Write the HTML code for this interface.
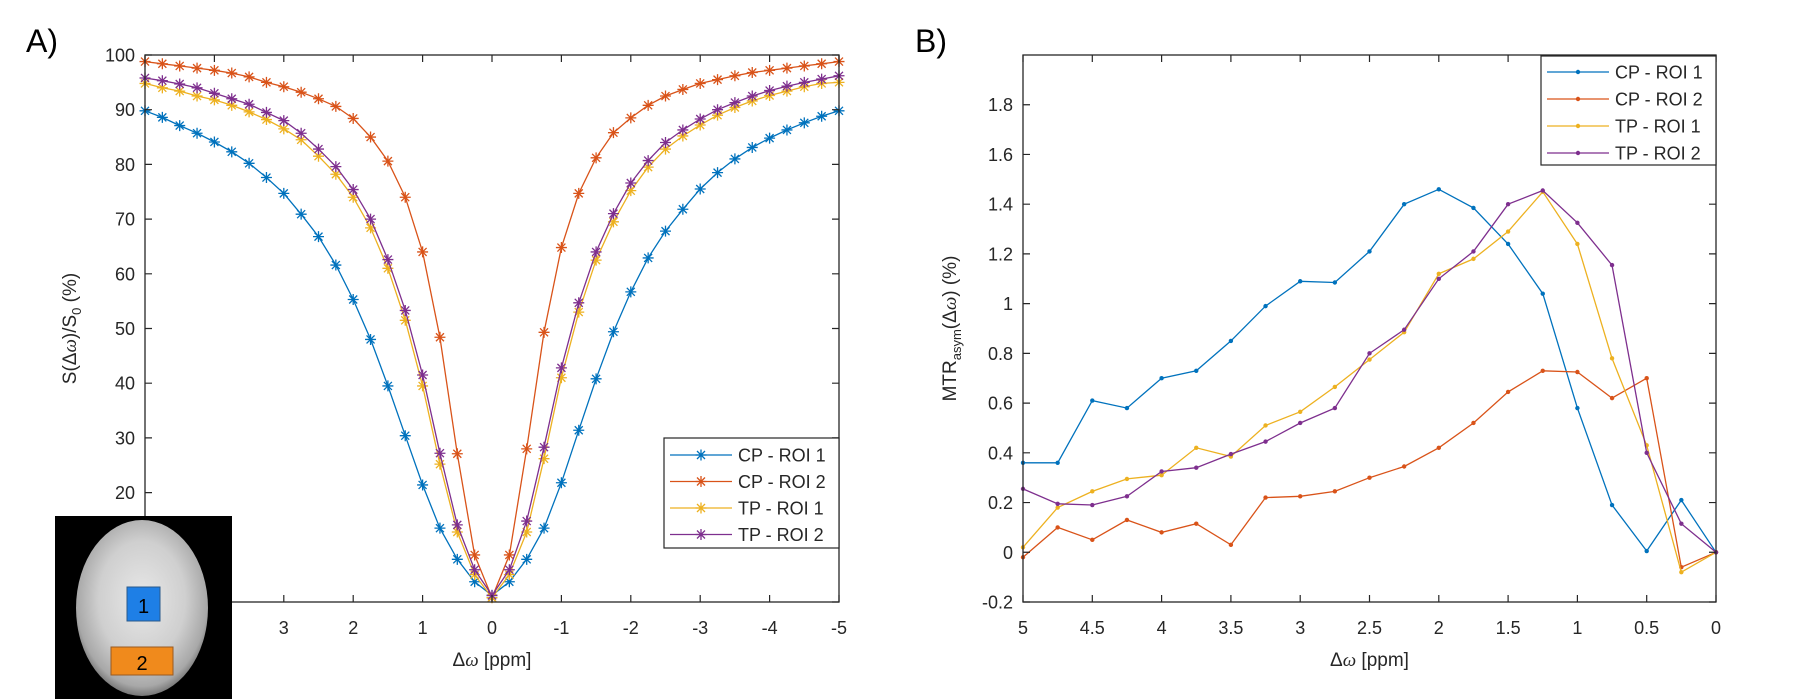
<!DOCTYPE html>
<html><head><meta charset="utf-8"><style>
html,body{margin:0;padding:0;background:#fff;}
svg{display:block;font-family:"Liberation Sans",Arial,sans-serif;}
</style></head><body>
<svg id="fig" width="1801" height="699" viewBox="0 0 1801 699" xmlns="http://www.w3.org/2000/svg">
<defs>
<radialGradient id="brainGrad" cx="50%" cy="45%" r="55%">
<stop offset="0" stop-color="#e8e8e8"/><stop offset="0.6" stop-color="#cfcfcf"/><stop offset="0.9" stop-color="#a8a8a8"/><stop offset="1" stop-color="#777"/>
</radialGradient>
</defs>
<text x="26" y="52" font-size="32">A)</text>
<text x="915" y="52" font-size="32">B)</text>
<g id="chartA"></g>
<g id="chartB"></g>
<g>
<rect x="55" y="516" width="177" height="183" fill="#000"/>
<ellipse cx="142" cy="608" rx="66" ry="88" fill="url(#brainGrad)"/>
<rect x="127" y="587" width="33" height="34" fill="#1e7fe6" stroke="#2b5a8a" stroke-width="1"/>
<text x="143.5" y="613" font-size="20" text-anchor="middle">1</text>
<rect x="111" y="647" width="62" height="28" fill="#f08a1c" stroke="#9a5a20" stroke-width="1"/>
<text x="142" y="670" font-size="20" text-anchor="middle">2</text>
</g>
</svg>
<script>
// ---------- Chart A data ----------
const xA = [5,4.75,4.5,4.25,4,3.75,3.5,3.25,3,2.75,2.5,2.25,2,1.75,1.5,1.25,1,0.75,0.5,0.25,0,-0.25,-0.5,-0.75,-1,-1.25,-1.5,-1.75,-2,-2.25,-2.5,-2.75,-3,-3.25,-3.5,-3.75,-4,-4.25,-4.5,-4.75,-5];
const cpRoi1A = [89.8,88.6,87.1,85.7,84.1,82.3,80.2,77.6,74.7,70.9,66.8,61.6,55.3,48.0,39.5,30.4,21.4,13.5,7.8,3.7,1.2,3.7,7.8,13.5,21.8,31.4,40.8,49.4,56.7,62.9,67.8,71.8,75.5,78.5,81.0,83.1,84.8,86.3,87.6,88.8,89.8];
const cpRoi2A = [98.8,98.4,98.0,97.6,97.2,96.7,96.0,95.0,94.2,93.2,92.0,90.6,88.4,85.0,80.6,74.0,64.0,48.4,27.1,8.6,0.8,8.6,28.0,49.3,64.8,74.7,81.2,85.8,88.5,90.8,92.5,93.7,94.8,95.5,96.2,96.8,97.2,97.6,98.0,98.4,98.8];
const tpRoi1A = [94.8,94.0,93.4,92.5,91.8,90.8,89.6,88.2,86.5,84.5,81.5,78.2,74.0,68.4,61.0,51.5,39.5,25.2,12.8,5.0,0.8,5.0,12.8,26.2,41.0,53.0,62.5,69.5,75.2,79.5,82.8,85.2,87.2,89.0,90.4,91.6,92.6,93.4,94.2,94.8,95.0];
const tpRoi2A = [95.8,95.3,94.7,94.0,93.0,92.0,91.0,89.5,88.0,85.7,82.8,79.6,75.4,70.0,62.6,53.3,41.5,27.2,14.1,5.9,1.2,5.9,14.8,28.3,42.8,54.7,64.0,71.0,76.6,80.7,84.0,86.3,88.3,90.0,91.3,92.5,93.5,94.3,95.0,95.6,96.2];
const xTicksA = [5,4,3,2,1,0,-1,-2,-3,-4,-5];
const yTicksA = [0,10,20,30,40,50,60,70,80,90,100];
// ---------- Chart B data ----------
const xB = [5,4.75,4.5,4.25,4,3.75,3.5,3.25,3,2.75,2.5,2.25,2,1.75,1.5,1.25,1,0.75,0.5,0.25,0];
const cpRoi1B = [0.36,0.36,0.61,0.58,0.70,0.73,0.85,0.99,1.09,1.085,1.21,1.40,1.46,1.385,1.24,1.04,0.58,0.19,0.005,0.21,0];
const cpRoi2B = [-0.02,0.10,0.05,0.13,0.08,0.115,0.03,0.22,0.225,0.245,0.30,0.345,0.42,0.52,0.645,0.73,0.725,0.62,0.70,-0.06,0];
const tpRoi1B = [0.02,0.18,0.245,0.295,0.31,0.42,0.385,0.51,0.565,0.665,0.775,0.885,1.12,1.18,1.29,1.45,1.24,0.78,0.43,-0.08,0];
const tpRoi2B = [0.255,0.195,0.19,0.225,0.325,0.34,0.395,0.445,0.52,0.58,0.80,0.895,1.10,1.21,1.40,1.455,1.325,1.155,0.40,0.115,0];
const xTicksB = [5,4.5,4,3.5,3,2.5,2,1.5,1,0.5,0];
const xTickLabelsB = ["5","4.5","4","3.5","3","2.5","2","1.5","1","0.5","0"];
const yTicksB = [-0.2,0,0.2,0.4,0.6,0.8,1,1.2,1.4,1.6,1.8];
const yTickLabelsB = ["-0.2","0","0.2","0.4","0.6","0.8","1","1.2","1.4","1.6","1.8"];
const seriesNames = ["CP - ROI 1","CP - ROI 2","TP - ROI 1","TP - ROI 2"];
const colors = ["#0072BD","#D95319","#EDB120","#7E2F8E"];

const NS = "http://www.w3.org/2000/svg";
function mk(tag, attrs, parent){
  const e = document.createElementNS(NS, tag);
  for (const k in attrs) e.setAttribute(k, attrs[k]);
  parent.appendChild(e);
  return e;
}
function asterisk(g, cx, cy, col){
  const r = 5.5, d = 4;
  const p = mk("path", {d:`M${cx-r},${cy}H${cx+r}M${cx},${cy-r}V${cy+r}M${cx-d},${cy-d}L${cx+d},${cy+d}M${cx-d},${cy+d}L${cx+d},${cy-d}`, stroke:col, "stroke-width":1.3, fill:"none"}, g);
  
  
}

function drawChart(cfg){
  const g = document.getElementById(cfg.id);
  const {L,R,T,B,x0,x1,y0,y1} = cfg;
  const sx = v => L + (v - x0) / (x1 - x0) * (R - L);
  const sy = v => B - (v - y0) / (y1 - y0) * (B - T);
  cfg.series.forEach((ys, si) => {
    const sg = mk("g", {}, g);
    
    
    const pts = cfg.xs.map((x,i) => sx(x).toFixed(1) + "," + sy(ys[i]).toFixed(1)).join(" ");
    const pl = mk("polyline", {points:pts, fill:"none", stroke:colors[si], "stroke-width":1.3}, sg);
    
    
    cfg.xs.forEach((x,i) => {
      if (cfg.marker === "star") asterisk(sg, sx(x), sy(ys[i]), colors[si]);
      else {
        const c = mk("circle", {cx:sx(x), cy:sy(ys[i]), r:2.2, fill:colors[si]}, sg);
        
        
      }
    });
  });
  const box = mk("rect", {x:L, y:T, width:R-L, height:B-T, fill:"none", stroke:"#262626", "stroke-width":1.3}, g);
  
  
  cfg.xTicks.forEach((v,i) => {
    const x = sx(v);
    const t = mk("path", {d:`M${x},${B}V${B-7}M${x},${T}V${T+7}`, stroke:"#262626", "stroke-width":1.2}, g);
    
    
    const lb = mk("text", {x:x, y:B+32, "font-size":18, "text-anchor":"middle", fill:"#262626"}, g);
    lb.textContent = cfg.xLabels[i];
    
    
  });
  cfg.yTicks.forEach((v,i) => {
    const y = sy(v);
    const t = mk("path", {d:`M${L},${y}H${L+7}M${R},${y}H${R-7}`, stroke:"#262626", "stroke-width":1.2}, g);
    
    
    const lb = mk("text", {x:L-10, y:y+6.5, "font-size":18, "text-anchor":"end", fill:"#262626"}, g);
    lb.textContent = cfg.yLabels[i];
    
    
  });
  const xt = mk("text", {x:(L+R)/2, y:B+64, "font-size":19, "text-anchor":"middle", fill:"#262626"}, g);
  xt.innerHTML = 'Δ<tspan font-family="Liberation Serif, serif" font-style="italic">ω</tspan> [ppm]';
  
  
  const yt = mk("text", {x:0, y:0, "font-size":19, "text-anchor":"middle", fill:"#262626", transform:`translate(${cfg.yTitleX},${(T+B)/2}) rotate(-90)`}, g);
  yt.innerHTML = cfg.yTitle;
  
  
  const lg = mk("g", {}, g);
  
  
  const lbx = cfg.legend;
  const lr = mk("rect", {x:lbx.x, y:lbx.y, width:lbx.w, height:lbx.h, fill:"#fff", stroke:"#262626", "stroke-width":1.2}, lg);
  
  
  seriesNames.forEach((n,i) => {
    const y = lbx.y + lbx.first + i*lbx.step;
    const le = mk("g", {}, lg);
    
    
    const ln = mk("line", {x1:lbx.x+6, x2:lbx.x+lbx.lineW, y1:y, y2:y, stroke:colors[i], "stroke-width":1.3}, le);
    
    
    const mx = lbx.x + 6 + (lbx.lineW-6)/2;
    if (cfg.marker === "star") asterisk(le, mx, y, colors[i]);
    else {
      const c = mk("circle", {cx:mx, cy:y, r:2.2, fill:colors[i]}, le);
      
      
    }
    const tx = mk("text", {x:lbx.x+lbx.lineW+6, y:y+6.5, "font-size":18, fill:"#262626"}, le);
    tx.textContent = n;
    
    
  });
}

drawChart({id:"chartA", L:145, R:839, T:55, B:602, x0:5, x1:-5, y0:0, y1:100,
  xs:xA, series:[cpRoi1A,cpRoi2A,tpRoi1A,tpRoi2A], marker:"star",
  xTicks:xTicksA, xLabels:xTicksA.map(String), yTicks:yTicksA, yLabels:yTicksA.map(String),
  yTitleX:76, yTitle:'S(Δ<tspan font-family="Liberation Serif, serif" font-style="italic">ω</tspan>)/S<tspan font-size="13" dy="5">0</tspan><tspan dy="-5"> (%)</tspan>',
  legend:{x:664, y:438, w:175, h:110, first:17, step:26.5, lineW:68}});

drawChart({id:"chartB", L:1023, R:1716, T:55, B:602, x0:5, x1:0, y0:-0.2, y1:2.0,
  xs:xB, series:[cpRoi1B,cpRoi2B,tpRoi1B,tpRoi2B], marker:"dot",
  xTicks:xTicksB, xLabels:xTickLabelsB, yTicks:yTicksB, yLabels:yTickLabelsB,
  yTitleX:956, yTitle:'MTR<tspan font-size="13" dy="5">asym</tspan><tspan dy="-5">(Δ</tspan><tspan font-family="Liberation Serif, serif" font-style="italic">ω</tspan>) (%)',
  legend:{x:1541, y:56, w:175, h:109, first:16, step:27, lineW:68}});
</script>
</body></html>
